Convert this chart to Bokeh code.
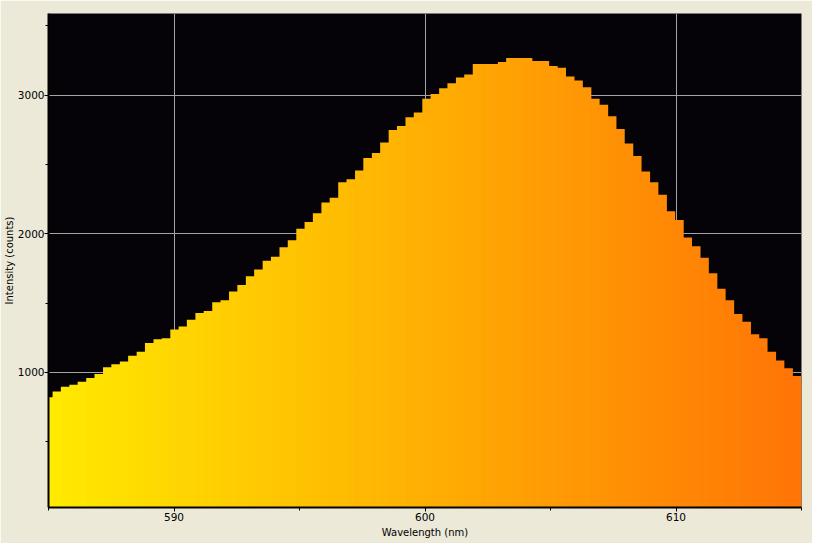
from bokeh.plotting import figure
from bokeh.models import Range1d, FixedTicker
from bokeh.embed import file_html
from bokeh.resources import INLINE

# Bar centre wavelengths (nm)
wavelength = [
    585.02, 585.35, 585.68, 586.02, 586.35, 586.69, 587.02, 587.36, 587.69, 588.03,
    588.36, 588.70, 589.03, 589.37, 589.70, 590.04, 590.37, 590.70, 591.04, 591.37,
    591.71, 592.04, 592.38, 592.71, 593.05, 593.38, 593.72, 594.05, 594.39, 594.72,
    595.06, 595.39, 595.72, 596.06, 596.39, 596.73, 597.06, 597.40, 597.73, 598.07,
    598.40, 598.74, 599.07, 599.41, 599.74, 600.08, 600.41, 600.75, 601.08, 601.42,
    601.75, 602.09, 602.42, 602.75, 603.09, 603.42, 603.76, 604.09, 604.43, 604.76,
    605.10, 605.43, 605.77, 606.10, 606.44, 606.77, 607.11, 607.44, 607.77, 608.11,
    608.44, 608.78, 609.11, 609.45, 609.78, 610.12, 610.45, 610.79, 611.12, 611.46,
    611.79, 612.13, 612.46, 612.80, 613.13, 613.46, 613.80, 614.13, 614.47, 614.80,
    615.14,
]

# Intensity (counts)
intensity = [
    820, 862, 897, 911, 932, 960, 988, 1037, 1058, 1079,
    1121, 1149, 1212, 1240, 1247, 1310, 1331, 1380, 1429, 1443,
    1506, 1520, 1583, 1631, 1694, 1743, 1806, 1834, 1904, 1953,
    2037, 2086, 2149, 2226, 2261, 2373, 2394, 2457, 2548, 2583,
    2659, 2750, 2778, 2841, 2876, 2974, 3009, 3051, 3086, 3128,
    3149, 3226, 3226, 3226, 3240, 3268, 3268, 3268, 3247, 3247,
    3212, 3198, 3135, 3107, 3058, 2974, 2932, 2848, 2757, 2652,
    2562, 2450, 2373, 2282, 2163, 2100, 1974, 1911, 1827, 1715,
    1603, 1520, 1422, 1366, 1275, 1247, 1149, 1086, 1030, 974,
    918,
]

x_ticks = [590, 600, 610]
x_minor = [585, 590, 595, 600, 605, 610, 615]
y_ticks = [1000, 2000, 3000]
y_minor = [500, 1000, 1500, 2000, 2500, 3000, 3500]

X_MIN, X_MAX = 585.0, 615.0
Y_MIN, Y_MAX = 25, 3590
BAR_STEP = 0.3347

BG = "#ECE9D8"
FONT = "DejaVu Sans"


def band_color(w):
    t = (w - X_MIN) / (X_MAX - X_MIN)
    t = min(max(t, 0.0), 1.0)
    g = int(round(234 - t * (234 - 116)))
    b = int(round(t * 6))
    return "#%02x%02x%02x" % (255, g, b)


colors = [band_color(w) for w in wavelength]

p = figure(
    width=812, height=543,
    output_backend="svg", toolbar_location=None,
    x_range=Range1d(X_MIN, X_MAX), y_range=Range1d(Y_MIN, Y_MAX),
    background_fill_color="#050308", border_fill_color=BG,
    min_border_left=44, min_border_right=11, min_border_top=13, min_border_bottom=36,
)
p.outline_line_color = None

# slightly overlapping bars so that no seams appear between neighbours
p.vbar(x=wavelength, top=intensity, bottom=0, width=BAR_STEP * 1.12,
       fill_color=colors, line_color=None)

p.xaxis.ticker = FixedTicker(ticks=x_ticks, minor_ticks=x_minor)
p.yaxis.ticker = FixedTicker(ticks=y_ticks, minor_ticks=y_minor)

for ax in (p.xaxis[0], p.yaxis[0]):
    ax.axis_line_color = "black"
    ax.axis_line_width = 2
    ax.major_tick_line_color = "black"
    ax.minor_tick_line_color = "black"
    ax.major_tick_out = 4
    ax.major_tick_in = 0
    ax.minor_tick_out = 3
    ax.minor_tick_in = 0
    ax.major_label_text_font = FONT
    ax.major_label_text_font_size = "10.5px"
    ax.major_label_text_color = "black"
    ax.axis_label_text_font = FONT
    ax.axis_label_text_font_size = "10px"
    ax.axis_label_text_font_style = "normal"
    ax.axis_label_text_color = "black"
    ax.major_label_standoff = 0
    ax.axis_label_standoff = 0

p.xaxis.major_label_standoff = 1
p.xaxis.axis_label_standoff = 3
p.xaxis.axis_label = "Wavelength (nm)"
p.yaxis.axis_label = "Intensity (counts)"

p.xgrid.grid_line_color = "#A4A4A4"
p.ygrid.grid_line_color = "#A4A4A4"

html = file_html(p, INLINE)
html = html.replace("<body>", '<body style="background-color:%s;">' % BG, 1)
open("out.html", "w").write(html)
